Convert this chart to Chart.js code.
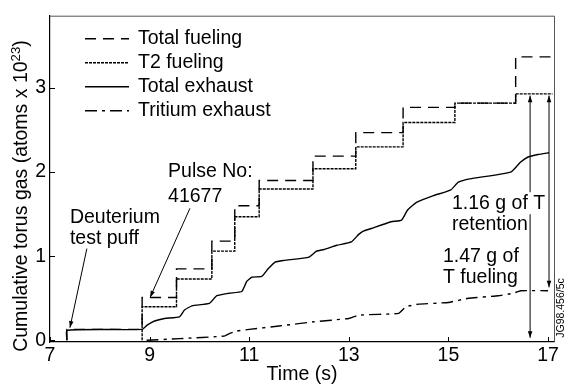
<!DOCTYPE html>
<html><head><meta charset="utf-8">
<script src="https://cdn.jsdelivr.net/npm/chart.js@4.4.1/dist/chart.umd.min.js"></script>
<style>html,body{margin:0;padding:0;background:#fff;}</style>
</head><body>
<canvas id="c" width="567" height="386"></canvas>
<script>
// ---- data ----
const xTicks = [7, 9, 11, 13, 15, 17];
const yTicks = [0, 1, 2, 3];

const fuelTotalT = [7.34, 7.34, 8.85, 9.54, 10.25, 10.71, 11.20, 12.28, 13.14, 14.09, 15.13, 16.35, 17.09];
const fuelTotalV = [0, 0.13, 0.51, 0.85, 1.18, 1.60, 1.90, 2.19, 2.47, 2.77, 2.82, 3.37, 3.37];

const fuelT2T = [8.85, 8.85, 9.54, 10.25, 10.71, 11.20, 12.28, 13.14, 14.09, 15.13, 16.35, 17.09];
const fuelT2V = [0, 0.40, 0.73, 1.06, 1.47, 1.80, 2.04, 2.30, 2.59, 2.82, 2.93, 2.93];

const exhTotalT = [7.34, 7.34, 8.85, 8.95, 9.10, 9.30, 9.60, 9.70, 9.85, 10.20, 10.35, 10.60, 10.85, 10.95, 11.05, 11.25,
  11.38, 11.52, 11.70, 12.20, 12.35, 12.50, 12.76, 13.05, 13.20, 13.30, 13.45, 13.85, 14.06, 14.18, 14.36, 14.70,
  15.05, 15.20, 15.43, 16.25, 16.45, 16.60, 16.80, 17.02];
const exhTotalV = [0, 0.12, 0.13, 0.18, 0.23, 0.26, 0.28, 0.36, 0.41, 0.44, 0.53, 0.56, 0.58, 0.70, 0.75, 0.76,
  0.85, 0.93, 0.95, 0.99, 1.06, 1.08, 1.13, 1.17, 1.26, 1.30, 1.33, 1.41, 1.43, 1.55, 1.64, 1.72,
  1.79, 1.88, 1.92, 2.00, 2.12, 2.18, 2.21, 2.23];

const exhTritT = [8.94, 9.60, 10.50, 10.60, 10.75, 11.00, 11.60, 12.30, 13.00, 13.20, 14.00, 14.15, 14.40, 15.00, 15.40, 16.00, 16.30, 16.45, 17.00];
const exhTritV = [0, 0.02, 0.05, 0.08, 0.11, 0.13, 0.17, 0.22, 0.26, 0.30, 0.32, 0.40, 0.43, 0.45, 0.50, 0.53, 0.56, 0.59, 0.59];

const seriesNames = ['Total fueling', 'T2 fueling', 'Total exhaust', 'Tritium exhaust'];

// ---- helpers ----
const FONT = "'Liberation Sans', Arial, Helvetica, sans-serif";
const FS = 19.5;
const mk = (T, V) => T.map((t, i) => ({x: t, y: V[i]}));

const notes = [
  {text: 'Deuterium', t: 7.40, v: 1.46},
  {text: 'test puff', t: 7.40, v: 1.21},
  {text: 'Pulse No:', t: 9.37, v: 2.00},
  {text: '41677', t: 9.37, v: 1.71},
  {text: '1.16 g of T', t: 15.07, v: 1.63, knock: true},
  {text: 'retention', t: 15.07, v: 1.37, knock: true},
  {text: '1.47 g of', t: 14.89, v: 0.99},
  {text: 'T fueling', t: 14.89, v: 0.74}
];
const arrows = [
  {t1: 7.74, v1: 1.09, t2: 7.40, v2: 0.15, both: false},
  {t1: 9.81, v1: 1.57, t2: 9.01, v2: 0.51, both: false},
  {t1: 16.64, v1: 0.03, t2: 16.64, v2: 2.91, both: true},
  {t1: 17.02, v1: 0.63, t2: 17.02, v2: 2.91, both: true}
];

function head(ctx, x1, y1, x2, y2) {
  const a = Math.atan2(y2 - y1, x2 - x1), L = 7, w = 0.33;
  ctx.beginPath();
  ctx.moveTo(x2, y2);
  ctx.lineTo(x2 - L * Math.cos(a - w), y2 - L * Math.sin(a - w));
  ctx.lineTo(x2 - L * Math.cos(a + w), y2 - L * Math.sin(a + w));
  ctx.closePath();
  ctx.fill();
}

const overlay = {
  id: 'overlay',
  afterDraw(chart) {
    const {ctx, chartArea: a, scales: {x, y}} = chart;
    ctx.save();
    // frame top/right
    ctx.strokeStyle = '#555'; ctx.lineWidth = 1;
    ctx.beginPath();
    ctx.moveTo(a.left, a.top + 0.5); ctx.lineTo(a.right + 0.5, a.top + 0.5); ctx.lineTo(a.right + 0.5, a.bottom);
    ctx.stroke();
    // inward ticks
    ctx.strokeStyle = '#000'; ctx.lineWidth = 1;
    ctx.beginPath();
    xTicks.forEach(v => { const px = Math.round(x.getPixelForValue(v)) + 0.5; ctx.moveTo(px, a.bottom); ctx.lineTo(px, a.bottom - 5); });
    yTicks.forEach(v => { const py = Math.round(y.getPixelForValue(v)) + 0.5; ctx.moveTo(a.left, py); ctx.lineTo(a.left + 5, py); });
    ctx.stroke();

    // y axis title with superscript
    ctx.save();
    ctx.fillStyle = '#000';
    ctx.translate(22, 196);
    ctx.rotate(-Math.PI / 2);
    const t1 = 'Cumulative torus gas (atoms x 10', t2 = '23', t3 = ')';
    ctx.font = FS + 'px ' + FONT; const w1 = ctx.measureText(t1).width, w3 = ctx.measureText(t3).width;
    ctx.font = (FS * 0.68) + 'px ' + FONT; const w2 = ctx.measureText(t2).width;
    let sx = -(w1 + w2 + w3) / 2;
    ctx.textBaseline = 'middle'; ctx.textAlign = 'left';
    ctx.font = FS + 'px ' + FONT; ctx.fillText(t1, sx, 0); sx += w1;
    ctx.font = (FS * 0.68) + 'px ' + FONT; ctx.fillText(t2, sx, -6); sx += w2;
    ctx.font = FS + 'px ' + FONT; ctx.fillText(t3, sx, 0);
    ctx.restore();

    // legend
    ctx.font = FS + 'px ' + FONT; ctx.fillStyle = '#000'; ctx.textBaseline = 'middle'; ctx.textAlign = 'left';
    chart.data.datasets.forEach((ds, i) => {
      const yy = a.top + 23 + i * 24;
      ctx.save();
      ctx.strokeStyle = '#000'; ctx.lineWidth = ds.borderWidth; ctx.setLineDash(ds.borderDash || []);
      ctx.beginPath(); ctx.moveTo(a.left + 35, yy); ctx.lineTo(a.left + 79, yy); ctx.stroke();
      ctx.restore();
      ctx.fillText(seriesNames[i], a.left + 88, yy);
    });

    // arrows
    ctx.lineWidth = 1; ctx.strokeStyle = '#000'; ctx.fillStyle = '#000';
    arrows.forEach(ar => {
      const x1 = x.getPixelForValue(ar.t1), y1 = y.getPixelForValue(ar.v1);
      const x2 = x.getPixelForValue(ar.t2), y2 = y.getPixelForValue(ar.v2);
      ctx.beginPath(); ctx.moveTo(x1, y1); ctx.lineTo(x2, y2); ctx.stroke();
      head(ctx, x1, y1, x2, y2);
      if (ar.both) head(ctx, x2, y2, x1, y1);
    });

    // notes
    ctx.font = FS + 'px ' + FONT; ctx.textBaseline = 'middle'; ctx.textAlign = 'left';
    notes.forEach(n => {
      const px = x.getPixelForValue(n.t), py = y.getPixelForValue(n.v);
      if (n.knock) {
        const w = ctx.measureText(n.text).width;
        ctx.fillStyle = '#fff'; ctx.fillRect(px - 1, py - 11, w + 2, 22);
      }
      ctx.fillStyle = '#000';
      ctx.fillText(n.text, px, py);
    });

    // figure id
    ctx.save();
    ctx.translate(561, 308);
    ctx.rotate(-Math.PI / 2);
    ctx.font = '10.5px ' + FONT; ctx.textAlign = 'center'; ctx.textBaseline = 'middle'; ctx.fillStyle = '#000';
    ctx.fillText('JG98.456/5c', 0, 0);
    ctx.restore();
    ctx.restore();
  }
};

const base = {borderColor: '#000', borderWidth: 1.4, pointRadius: 0, fill: false};

new Chart(document.getElementById('c'), {
  type: 'line',
  data: {
    datasets: [
      Object.assign({label: seriesNames[0], data: mk(fuelTotalT, fuelTotalV), stepped: 'before', borderDash: [11, 7]}, base),
      Object.assign({label: seriesNames[1], data: mk(fuelT2T, fuelT2V), stepped: 'before', borderDash: [3, 1]}, base),
      Object.assign({label: seriesNames[2], data: mk(exhTotalT, exhTotalV), tension: 0.15, borderDash: []}, base),
      Object.assign({label: seriesNames[3], data: mk(exhTritT, exhTritV), tension: 0.1, borderDash: [12, 5, 3, 5]}, base)
    ]
  },
  options: {
    responsive: false,
    animation: false,
    devicePixelRatio: 1,
    layout: {padding: {top: 14, right: 13, left: 0, bottom: 0}},
    plugins: {legend: {display: false}, tooltip: {enabled: false}},
    scales: {
      x: {
        type: 'linear', min: 7, max: 17.12,
        afterBuildTicks: s => { s.ticks = xTicks.map(v => ({value: v})); },
        afterFit: s => { s.height = 44; },
        grid: {display: false, drawTicks: false},
        border: {display: true, color: '#000', width: 1.2},
        ticks: {color: '#000', font: {family: FONT, size: FS}, padding: 2, maxRotation: 0, autoSkip: false, callback: v => String(v)},
        title: {display: true, text: 'Time (s)', color: '#000', font: {family: FONT, size: FS}, padding: {top: 0, bottom: 0}}
      },
      y: {
        type: 'linear', min: -0.02, max: 3.86,
        afterBuildTicks: s => { s.ticks = yTicks.map(v => ({value: v})); },
        afterFit: s => { s.width = 50; },
        grid: {display: false, drawTicks: false},
        border: {display: true, color: '#000', width: 1.2},
        ticks: {color: '#000', font: {family: FONT, size: FS}, padding: 4, autoSkip: false, callback: v => String(v)},
        title: {display: false}
      }
    }
  },
  plugins: [overlay]
});
</script>
</body></html>
